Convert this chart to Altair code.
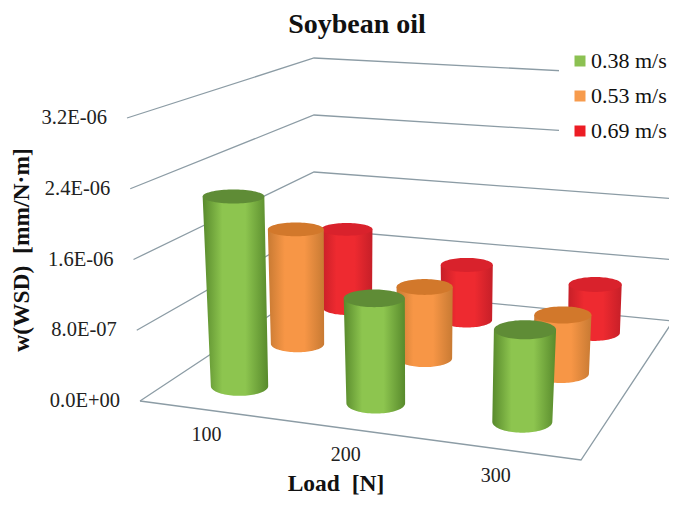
import altair as alt
import numpy as np
import pandas as pd

# ---- values
loads = ["100", "200", "300"]
speeds = ["0.38 m/s", "0.53 m/s", "0.69 m/s"]
wear_038 = [2.2e-6, 1.19e-6, 1.02e-6]
wear_053 = [1.43e-6, 0.87e-6, 0.7e-6]
wear_069 = [1.05e-6, 0.72e-6, 0.62e-6]
y_ticks = [0.0, 0.8e-6, 1.6e-6, 2.4e-6, 3.2e-6]
y_tick_labels = ["0.0E+00", "8.0E-07", "1.6E-06", "2.4E-06", "3.2E-06"]
series_values = [wear_038, wear_053, wear_069]

body_edge = ["#588a2c", "#c87a33", "#c61f28"]
body_mid = ["#8dc54f", "#f79646", "#ee2a30"]
top_fill = ["#5f8c36", "#d2782b", "#d9222c"]
legend_fill = ["#8cc152", "#f79b4d", "#ec1c24"]
grid_colour = "#8c9ca5"
SERIF = "Liberation Serif"

# ---- 3D frame: perspective box (floor and top plane of the value axis)
FLOOR = np.array([[140, 401], [581, 460], [673, 321], [314, 286]], float)
CEIL = np.array([[127, 118], [600, 157], [683, 77], [314, 58]], float)
YMAX = 3.2e-6
WIDTH, HEIGHT = 661, 489


def homography(q):
    a, b = [], []
    for (u, v), (x, y) in zip([(0, 0), (1, 0), (1, 1), (0, 1)], q):
        a.append([u, v, 1, 0, 0, 0, -u * x, -v * x]); b.append(x)
        a.append([0, 0, 0, u, v, 1, -u * y, -v * y]); b.append(y)
    return np.append(np.linalg.solve(np.array(a), np.array(b)), 1).reshape(3, 3)


H_F, H_C = homography(FLOOR), homography(CEIL)


def plane(h, u, v):
    p = h @ np.array([u, v, 1.0])
    return p[:2] / p[2]


def project(u, v, value):
    base, top = plane(H_F, u, v), plane(H_C, u, v)
    return base + (top - base) * value / YMAX


def scale_at(u, v):
    return plane(H_F, u, v)[1] - plane(H_C, u, v)[1]


def radii(u, v, value, cy):
    rx = 0.104 * scale_at(u, v) * (1 + 0.11 * value / YMAX)
    return rx, rx * (0.11 + 0.0006 * cy)


X = alt.Scale(domain=[8, 8 + WIDTH], nice=False, zero=False)
Y = alt.Scale(domain=[8 + HEIGHT, 8], nice=False, zero=False)
x_plain = alt.X("x:Q", scale=X, axis=None)
y_plain = alt.Y("y:Q", scale=Y, axis=None)

# ---- grid
rows = []
for k, t in enumerate(y_ticks):
    for uv_id, (u, v) in enumerate([(0, 0), (0, 1), (1, 1)]):
        px, py = project(u, v, t)
        rows.append(dict(line=f"g{k}", ord=uv_id, x=px, y=py))
for i, (u, v) in enumerate([(0, 0), (1, 0), (1, 1)]):
    px, py = project(u, v, 0)
    rows.append(dict(line="floor", ord=i, x=px, y=py))
grid = (
    alt.Chart(pd.DataFrame(rows))
    .mark_line(color=grid_colour, strokeWidth=1.3, clip=True)
    .encode(x=x_plain, y=y_plain, detail="line:N", order="ord:Q")
)

# ---- tick labels
ytick_df = pd.DataFrame(
    [dict(x=project(0, 0, t)[0], y=project(0, 0, t)[1], label=s) for t, s in zip(y_ticks, y_tick_labels)]
)
ytext = (
    alt.Chart(ytick_df)
    .mark_text(font=SERIF, fontSize=20.5, align="right", baseline="middle", dx=-20, color="#222")
    .encode(x=x_plain, y=y_plain, text="label:N")
)
xtick_pos = [plane(H_F, 0.5 + (i - 1) / 3 * 0.95, -0.16) for i in range(3)]
xtick_df = pd.DataFrame([dict(x=p[0], y=p[1], label=s) for p, s in zip(xtick_pos, loads)])
xtext = (
    alt.Chart(xtick_df)
    .mark_text(font=SERIF, fontSize=20, align="center", baseline="middle", dx=27, dy=-1, color="#222")
    .encode(x=x_plain, y=y_plain, text="label:N")
)

main_title = alt.Chart(pd.DataFrame({"t": ["Soybean oil"]})).mark_text(
    font=SERIF, fontSize=28, fontWeight="bold", color="#111", baseline="alphabetic", align="center"
).encode(x=alt.value(349), y=alt.value(25), text="t:N")
x_title = alt.Chart(pd.DataFrame({"t": ["Load\u00a0\u00a0[N]"]})).mark_text(
    font=SERIF, fontSize=23.5, fontWeight="bold", color="#111", baseline="alphabetic", align="center"
).encode(x=alt.value(328), y=alt.value(483), text="t:N")
y_title = alt.Chart(pd.DataFrame({"t": ["w(WSD)\u00a0\u00a0[mm/N·m]"]})).mark_text(
    font=SERIF, fontSize=23.5, fontWeight="bold", color="#111", baseline="middle", align="center", angle=270
).encode(x=alt.value(14), y=alt.value(242), text="t:N")

# ---- legend carrier: one point per bar, covered by the cylinders
carrier = []
for j, sp in enumerate(speeds):
    for i in range(3):
        u, v = (i + 0.5) / 3, (j + 0.5) / 3
        px, py = project(u, v, series_values[j][i] * 0.5)
        carrier.append(dict(x=px, y=py, speed=sp))
legend_layer = (
    alt.Chart(pd.DataFrame(carrier))
    .mark_square(size=30, opacity=1, filled=True)
    .encode(
        x=x_plain,
        y=y_plain,
        color=alt.Color(
            "speed:N",
            scale=alt.Scale(domain=speeds, range=legend_fill),
            legend=alt.Legend(
                title=None, orient="none", legendX=551, legendY=32, symbolType="square", symbolSize=121,
                labelFont=SERIF, labelFontSize=22, labelColor="#111", rowPadding=13, fillColor="white",
                padding=10, labelOffset=0, symbolStrokeWidth=0,
            ),
        ),
    )
)

# ---- cylinders, back row first
layers = [grid, ytext, xtext, main_title, x_title, y_title, legend_layer]
for j in [2, 1, 0]:
    for i in range(3):
        value = series_values[j][i]
        u, v = (i + 0.5) / 3, (j + 0.5) / 3
        b, t = project(u, v, 0), project(u, v, value)
        rxb, ryb = radii(u, v, 0, b[1])
        rxt, ryt = radii(u, v, value, t[1])
        body = []
        for s in np.linspace(0, 1, 12):
            cx, cy = t + (b - t) * s
            r = rxt + (rxb - rxt) * s
            body.append(dict(x=cx - r, xb=cx + r, y=cy))
        for a in np.linspace(0, np.pi / 2, 24)[1:]:
            body.append(dict(x=b[0] - rxb * np.cos(a), xb=b[0] + rxb * np.cos(a), y=b[1] + ryb * np.sin(a)))
        grad = alt.Gradient(
            gradient="linear", x1=0, x2=1, y1=0, y2=0,
            stops=[
                alt.GradientStop(offset=0, color=body_edge[j]),
                alt.GradientStop(offset=0.3, color=body_mid[j]),
                alt.GradientStop(offset=0.65, color=body_mid[j]),
                alt.GradientStop(offset=1, color=body_edge[j]),
            ],
        )
        layers.append(
            alt.Chart(pd.DataFrame(body))
            .mark_area(orient="horizontal", fill=grad)
            .encode(x=x_plain, x2=alt.X2("xb"), y=y_plain)
        )
        cap = []
        for a in np.linspace(-np.pi / 2, np.pi / 2, 41):
            cap.append(dict(x=t[0] - rxt * np.cos(a), xb=t[0] + rxt * np.cos(a), y=t[1] + ryt * np.sin(a)))
        layers.append(
            alt.Chart(pd.DataFrame(cap))
            .mark_area(orient="horizontal", fill=top_fill[j])
            .encode(x=x_plain, x2=alt.X2("xb"), y=y_plain)
        )

chart = (
    alt.layer(*layers)
    .properties(width=WIDTH, height=HEIGHT, padding=0, autosize=alt.AutoSizeParams(type="none"))
    .configure_view(stroke=None)
    .resolve_scale(color="shared")
)
chart.save("out.html", embed_options={"renderer": "svg", "actions": False})
